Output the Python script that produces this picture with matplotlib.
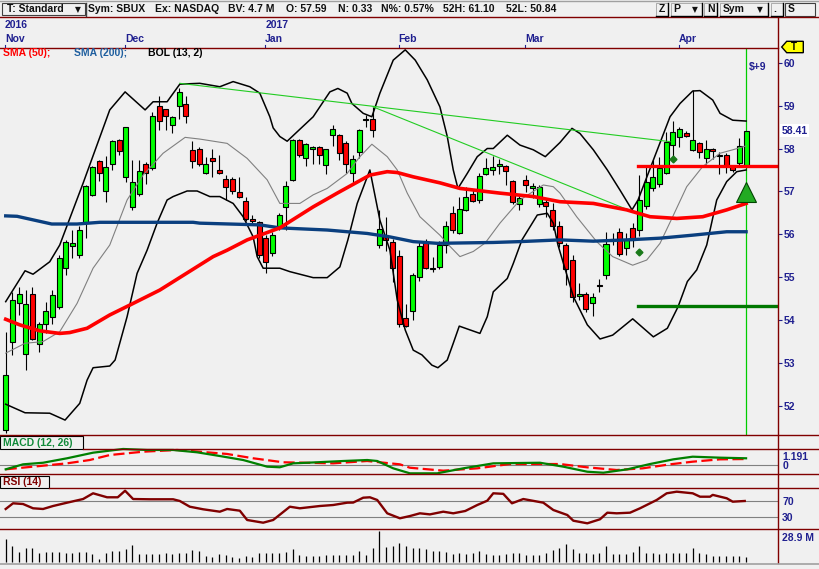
import numpy as np
import matplotlib
matplotlib.use('Agg')
import matplotlib.pyplot as plt
import matplotlib.transforms as mtransforms
from matplotlib.patches import Rectangle, Polygon
from matplotlib.lines import Line2D

plt.rcParams['font.family'] = ['Liberation Sans', 'DejaVu Sans']

# daily candles SBUX, Nov 4 2016 .. Apr 18 2017
opens = [51.44, 53.50, 54.39, 53.20, 54.62, 53.44, 53.92, 54.08, 54.31, 55.21,
         55.73, 55.52, 56.29, 56.92, 57.71, 57.00, 57.63, 58.20, 57.33, 56.63,
         56.95, 57.65, 57.54, 58.98, 58.91, 58.55, 58.99, 59.03, 57.96, 58.00,
         57.42, 57.79, 57.50, 57.30, 57.29, 56.98, 56.78, 56.35, 56.28, 55.92,
         55.56, 56.18, 56.63, 57.27, 58.21, 57.79, 57.98, 58.03, 57.61, 58.32,
         58.32, 58.12, 57.42, 57.91, 58.66, 58.68, 55.75, 55.98, 55.81, 55.49,
         54.04, 54.21, 55.00, 55.81, 55.21, 55.23, 55.75, 56.49, 56.02, 56.57,
         56.95, 56.80, 57.40, 57.51, 57.59, 57.60, 57.25, 56.71, 57.27, 57.09,
         56.71, 56.76, 56.57, 56.19, 55.75, 55.40, 54.56, 54.62, 54.39, 54.83,
         55.05, 55.85, 56.05, 55.67, 56.14, 56.10, 56.66, 57.09, 57.17, 57.44,
         58.08, 58.26, 58.35, 57.96, 58.12, 57.79, 57.98, 57.85, 57.85, 57.59,
         57.67, 57.59]
highs = [53.72, 54.66, 54.78, 54.70, 54.78, 53.96, 54.43, 54.70, 55.52, 55.86,
         56.10, 56.20, 57.15, 57.60, 57.73, 57.83, 58.20, 58.22, 58.51, 57.73,
         57.73, 57.69, 58.86, 59.22, 58.93, 58.76, 59.40, 59.22, 58.18, 58.04,
         57.81, 58.00, 57.85, 57.38, 57.34, 57.34, 56.88, 56.45, 56.30, 55.98,
         56.05, 56.50, 57.25, 58.22, 58.23, 58.12, 58.05, 58.05, 58.00, 58.55,
         58.34, 58.18, 57.86, 58.45, 58.78, 58.97, 56.57, 56.40, 55.90, 55.63,
         54.37, 55.09, 55.81, 55.90, 55.48, 55.85, 56.30, 56.65, 56.88, 57.11,
         57.03, 57.42, 57.79, 57.82, 57.75, 57.62, 57.27, 56.95, 57.38, 57.20,
         57.15, 56.84, 56.72, 56.30, 55.80, 55.52, 54.87, 54.66, 54.64, 54.95,
         56.06, 56.02, 56.15, 56.02, 56.26, 57.38, 57.58, 57.73, 57.81, 58.39,
         58.63, 58.51, 58.40, 59.36, 58.16, 58.20, 58.02, 57.92, 57.90, 57.62,
         58.24, 58.41]
lows = [51.36, 53.19, 54.12, 52.84, 53.54, 53.26, 53.69, 53.92, 54.27, 55.05,
        55.44, 55.45, 55.91, 56.90, 57.25, 56.76, 57.51, 57.85, 57.21, 56.57,
        56.90, 57.17, 57.50, 58.43, 58.43, 58.35, 58.68, 58.60, 57.54, 57.59,
        57.40, 57.33, 57.40, 56.81, 56.95, 56.84, 56.30, 56.25, 55.45, 55.09,
        55.50, 56.10, 56.10, 57.25, 57.81, 57.59, 57.65, 57.65, 57.41, 58.06,
        57.73, 57.42, 57.17, 57.77, 58.51, 58.28, 55.67, 55.60, 54.90, 53.83,
        53.85, 54.00, 54.92, 55.20, 55.11, 55.20, 55.57, 56.02, 56.00, 56.55,
        56.76, 56.72, 57.38, 57.38, 57.40, 57.15, 56.71, 56.57, 56.99, 56.85,
        56.64, 56.41, 56.10, 55.70, 54.83, 54.43, 54.47, 54.20, 54.10, 54.66,
        54.97, 55.75, 55.50, 55.52, 55.71, 55.97, 56.60, 57.00, 57.10, 57.40,
        57.81, 58.03, 58.28, 57.94, 57.77, 57.64, 57.76, 57.40, 57.42, 57.45,
        57.60, 57.55]
closes = [52.73, 54.48, 54.62, 54.37, 53.57, 53.92, 54.21, 54.59, 55.44, 55.83,
          55.79, 56.10, 57.13, 57.58, 57.42, 57.58, 58.18, 57.95, 58.49, 57.21,
          57.48, 57.42, 58.76, 58.64, 58.76, 58.74, 59.31, 58.76, 57.71, 57.65,
          57.63, 57.71, 57.42, 57.10, 57.01, 56.86, 56.35, 56.30, 55.52, 55.36,
          55.98, 56.45, 57.13, 58.20, 57.86, 58.10, 58.03, 57.85, 57.98, 58.45,
          57.89, 57.65, 57.75, 58.43, 58.69, 58.43, 56.12, 55.87, 55.21, 53.90,
          53.86, 55.05, 55.73, 55.22, 55.18, 55.75, 56.20, 56.10, 56.58, 56.86,
          56.78, 57.36, 57.54, 57.58, 57.64, 57.47, 56.76, 56.84, 57.15, 57.13,
          57.11, 56.67, 56.19, 55.80, 55.18, 54.53, 54.62, 54.27, 54.53, 54.80,
          55.77, 55.90, 55.54, 55.87, 55.87, 56.80, 57.23, 57.34, 57.54, 58.16,
          58.38, 58.45, 58.30, 58.21, 57.91, 58.00, 57.95, 57.82, 57.59, 57.50,
          58.06, 58.41]
volume_m = [26.5, 17.9, 11.3, 16.0, 16.0, 10.1, 11.3, 11.3, 11.3, 10.1,
            10.1, 11.3, 11.3, 9.0, 3.5, 10.1, 12.1, 12.1, 15.2, 19.9,
            9.0, 9.0, 9.0, 9.0, 10.1, 9.0, 10.1, 10.1, 14.0, 12.9,
            7.0, 5.1, 9.0, 7.4, 5.1, 4.3, 7.0, 5.1, 10.1, 10.1,
            10.1, 10.1, 10.9, 15.2, 7.4, 7.0, 6.2, 6.2, 8.2, 8.2,
            8.2, 8.2, 8.2, 12.9, 8.2, 16.0, 35.5, 17.2, 17.9, 21.8,
            18.7, 15.6, 15.6, 14.4, 12.9, 12.9, 11.7, 9.0, 10.5, 8.6,
            10.5, 12.9, 9.0, 7.8, 7.8, 9.0, 10.5, 10.5, 7.8, 7.8,
            7.8, 10.5, 13.7, 15.6, 20.7, 14.4, 9.8, 9.8, 9.0, 10.5,
            18.3, 9.0, 9.0, 9.0, 11.7, 18.3, 10.5, 9.8, 9.0, 10.5,
            10.5, 10.5, 10.5, 16.4, 10.5, 9.0, 6.6, 6.6, 6.6, 6.6,
            6.6, 5.9]

month_labels = ['Nov', 'Dec', 'Jan', 'Feb', 'Mar', 'Apr']
month_idx = [0, 18, 39, 59, 78, 101]
year_labels = ['2016', '2017']
year_idx = [0, 39]

# indicator lines (bar index, value)
sma50_i = [0, 2.1, 5.1, 8.1, 9.6, 12.2, 15.6, 18.6, 23.1, 27.2, 31.1, 33.2, 36.2, 41.1, 46.1, 49.7,
           54.6, 57.2, 58.7, 61.1, 65.1, 68.1, 74.1, 79.1, 83.1, 88.1, 93.1, 96.6, 100.6, 104.5, 108.1, 111]
sma50_v = [54.02, 53.89, 53.75, 53.69, 53.71, 53.81, 54.12, 54.35, 54.70, 55.10, 55.48, 55.63, 55.87, 56.15,
           56.64, 56.96, 57.38, 57.46, 57.44, 57.34, 57.20, 57.07, 56.96, 56.88, 56.76, 56.72, 56.57, 56.41,
           56.37, 56.41, 56.57, 56.72]
sma200_i = [0, 1.7, 6.9, 10.7, 14.1, 28.1, 29.1, 38.1, 41.1, 48.2, 54.2, 57.6, 61.1, 64.7, 73.1, 77.1,
            83.1, 88.1, 93.1, 98.1, 103.0, 108.1, 111]
sma200_v = [56.43, 56.42, 56.24, 56.24, 56.28, 56.28, 56.26, 56.22, 56.15, 56.10, 56.02, 55.94, 55.83,
            55.79, 55.81, 55.83, 55.87, 55.84, 55.87, 55.91, 55.98, 56.06, 56.06]
bb_up_i = [0, 2.9, 4.1, 6.6, 8.1, 11.6, 15.6, 17.9, 20.9, 22.1, 24.2, 26.1, 29.1, 32.1, 34.1, 36.6,
           38.1, 39.6, 40.1, 41.1, 42.2, 43.7, 46.1, 48.6, 49.8, 51.2, 51.9, 53.6, 54.9, 56.1, 58.1,
           59.9, 61.4, 63.2, 65.1, 66.2, 67.1, 67.8, 69.2, 70.7, 72.2, 73.1, 75.2, 77.1, 79.1, 80.9,
           83.1, 84.9, 86.1, 88.1, 90.2, 92.1, 93.9, 94.8, 97.1, 99.6, 101.1, 103.0, 104.1, 106.0,
           107.1, 109.0, 111]
bb_up_v = [54.43, 55.15, 55.07, 55.36, 55.75, 57.19, 58.90, 59.32, 58.90, 59.09, 59.09, 59.50, 59.52,
           59.44, 59.56, 59.44, 59.29, 58.74, 58.48, 58.28, 58.17, 58.39, 58.74, 59.32, 59.40, 59.29,
           59.05, 58.82, 58.74, 59.29, 60.06, 60.30, 60.06, 59.60, 58.97, 58.28, 57.50, 57.07, 57.42,
           57.81, 58.00, 58.00, 58.31, 58.08, 57.97, 57.81, 58.14, 58.47, 58.35, 57.97, 57.50, 57.03,
           56.57, 56.80, 57.73, 58.74, 59.05, 59.34, 59.35, 59.13, 58.82, 58.66, 58.64]
bb_mid_i = [0, 2.9, 5.6, 8.1, 10.7, 13.1, 15.6, 18.2, 20.6, 23.6, 26.9, 29.1, 33.2, 36.2, 39.2, 41.1,
            44.1, 46.1, 48.2, 51.2, 53.1, 54.9, 57.2, 58.7, 60.2, 62.1, 65.1, 66.6, 68.1, 70.1, 71.9,
            74.1, 77.1, 80.6, 82.1, 83.1, 85.6, 88.6, 91.0, 94.0, 96.1, 98.1, 100.0, 102.1, 104.5,
            107.1, 109.0, 111]
bb_mid_v = [53.23, 53.46, 53.50, 53.73, 54.39, 55.21, 55.75, 56.80, 57.38, 57.89, 58.26, 58.22, 58.12,
            57.77, 57.27, 56.72, 56.72, 56.92, 57.07, 57.42, 57.81, 58.10, 57.81, 57.50, 56.96, 56.41,
            55.98, 55.72, 55.48, 55.60, 55.80, 56.26, 56.80, 57.15, 57.11, 56.96, 56.41, 55.83, 55.48,
            55.28, 55.40, 55.79, 56.41, 57.11, 57.58, 57.89, 57.97, 58.06]
bb_lo_i = [0, 2.9, 6.6, 8.9, 11.1, 12.2, 13.1, 15.6, 16.4, 18.2, 19.7, 21.2, 22.7, 24.2, 25.1, 27.2,
           28.7, 30.6, 32.1, 34.1, 35.6, 37.1, 37.7, 38.6, 41.1, 42.6, 46.1, 48.2, 50.1, 51.3, 52.7,
           54.6, 56.1, 57.6, 58.7, 59.9, 61.1, 62.4, 63.9, 64.8, 66.2, 67.1, 68.0, 71.1, 72.2, 73.1,
           75.2, 76.1, 77.4, 79.7, 81.2, 82.1, 82.8, 85.1, 87.2, 89.1, 91.0, 94.0, 97.1, 99.2, 100.8,
           102.2, 103.6, 105.1, 106.6, 108.1, 109.6, 111]
bb_lo_v = [52.04, 51.84, 51.83, 51.67, 52.06, 52.60, 52.89, 52.93, 53.07, 54.08, 55.09, 55.63, 56.26,
           56.80, 56.88, 57.01, 57.01, 56.88, 56.88, 56.72, 56.41, 55.94, 55.48, 55.21, 55.21, 55.13,
           54.99, 54.99, 55.24, 55.87, 56.72, 57.50, 56.33, 55.63, 54.47, 53.77, 53.30, 53.19, 52.95,
           52.89, 53.07, 53.46, 53.86, 53.69, 54.08, 54.66, 54.97, 55.32, 55.87, 56.45, 56.49, 56.26,
           55.75, 54.55, 53.89, 53.56, 53.65, 54.03, 53.61, 53.81, 54.31, 54.90, 55.17, 55.75, 56.80,
           57.23, 57.46, 57.50]

# trend lines, stop/target levels and signal markers
trend_a_i = [26.1, 99.6]
trend_a_v = [59.52, 58.16]
trend_b_i = [55.1, 94.6]
trend_b_v = [58.97, 56.49]
level_start = 94.75
stop_level = 57.59
target_level = 54.34
diamond_i = [94.95, 100.1]
diamond_v = [55.58, 57.76]
buy_arrow_v = 56.99

macd_i = [0, 2.6, 5.6, 9.2, 13.1, 17.6, 21.2, 25.1, 28.7, 32.1, 35.6, 39.2, 41.1, 43.1, 46.7, 50.6,
          54.2, 55.7, 58.1, 60.6, 64.7, 68.6, 73.1, 80.1, 83.6, 87.2, 89.6, 93.2, 96.6, 100.1, 103.0,
          107.1, 111]
macd_v = [-0.57, 0.09, 0.30, 0.89, 1.63, 2.12, 1.99, 1.99, 1.68, 1.19, 0.66, -0.22, -0.30, 0.22, 0.36,
          0.53, 0.66, 0.53, -0.44, -1.10, -1.10, -0.44, 0.22, 0.30, -0.22, -0.89, -1.02, -0.57, 0.13,
          0.75, 1.10, 0.97, 0.89]
signal_i = [0, 4.1, 9.2, 12.6, 15.6, 20.6, 25.7, 29.1, 33.2, 37.1, 41.6, 49.1, 54.2, 59.1, 60.6, 65.6,
            70.7, 75.6, 83.1, 87.2, 91.6, 95.5, 99.6, 103.0, 107.1, 111]
signal_v = [-0.57, -0.22, 0.22, 0.66, 1.32, 1.76, 1.99, 1.76, 1.46, 0.89, 0.36, 0.22, 0.53, 0.09, -0.36,
            -0.75, -0.44, 0.13, 0.13, -0.31, -0.66, -0.44, 0.09, 0.44, 0.75, 0.79]
rsi_i = [0, 1.1, 2.6, 4.1, 5.6, 7.1, 9.2, 11.6, 13.1, 15.2, 16.8, 17.9, 19.1, 21.6, 25.1, 26.1, 27.6,
         29.6, 32.1, 33.2, 35.1, 36.2, 38.6, 40.1, 42.6, 44.1, 47.1, 49.1, 51.2, 52.1, 53.6, 54.6, 55.7,
         57.2, 59.1, 60.6, 62.1, 63.6, 65.6, 67.1, 68.9, 70.7, 72.2, 73.1, 74.6, 75.9, 77.6, 80.6, 82.1,
         84.2, 85.1, 87.2, 89.1, 90.2, 91.6, 93.6, 95.1, 97.6, 99.1, 100.6, 103.0, 104.1, 105.6, 106.0,
         108.1, 109.0, 110.8]
rsi_v = [50.0, 63.7, 62.0, 51.7, 50.0, 57.2, 65.2, 74.0, 87.8, 78.2, 78.2, 94.0, 74.0, 73.4, 73.4, 69.3,
         55.5, 49.3, 43.5, 50.0, 45.9, 23.5, 17.0, 23.5, 55.5, 51.7, 57.2, 59.6, 65.2, 65.5, 77.2, 78.2,
         71.7, 39.6, 27.6, 33.0, 39.6, 37.0, 43.5, 39.6, 45.2, 59.6, 70.0, 87.8, 86.5, 63.7, 74.0, 65.2,
         47.6, 35.5, 21.8, 15.5, 25.2, 41.1, 39.6, 41.1, 51.7, 71.7, 87.8, 91.7, 87.8, 79.6, 79.6, 84.0,
         75.8, 67.6, 69.3]

header = [('Sym: SBUX', 88), ('Ex: NASDAQ', 155), ('BV: 4.7 M', 228), ('O: 57.59', 286),
          ('N: 0.33', 338), ('N%: 0.57%', 381), ('52H: 61.10', 443), ('52L: 50.84', 506)]

W, H = 820, 569
BG = '#f0f0f0'
DARKRED = '#800000'
NAVY = '#202090'


def rect(x0, y0, x1, y1):
    return [x0 / W, 1 - y1 / H, (x1 - x0) / W, (y1 - y0) / H]


def fig_line(fig, xs, ys, color, lw=1.0):
    fig.add_artist(Line2D([x / W for x in xs], [1 - y / H for y in ys], color=color, lw=lw))


def fig_box(fig, x0, y0, x1, y1, fc=BG, ec='black', lw=0.8):
    fig.add_artist(Rectangle((x0 / W, 1 - y1 / H), (x1 - x0) / W, (y1 - y0) / H,
                             transform=fig.transFigure, fc=fc, ec=ec, lw=lw))


fig = plt.figure(figsize=(8.2, 5.69), dpi=100, facecolor=BG)

# bar index -> pixel: x = 5.7 + 6.67 * i
xlim = (-5.7 / 6.67, (778 - 5.7) / 6.67)
idx = np.arange(len(closes))
o = np.array(opens)
c = np.array(closes)

# price panel
ax = fig.add_axes(rect(0, 47.7, 778, 435), facecolor=BG)
ax.set_xlim(*xlim)
ax.set_ylim(51.322, 60.35)
for s in ax.spines.values():
    s.set_visible(False)
ax.set_xticks([])
ax.yaxis.tick_right()
ax.set_yticks(range(52, 61))
ax.tick_params(axis='y', length=3, width=0.8, color=NAVY, labelcolor=NAVY, labelsize=7.5, pad=1)
for t in ax.get_yticklabels():
    t.set_fontweight('bold')

ax.axvline(idx[-1], color='#00cc00', lw=0.9, zorder=1)
ax.vlines(idx, lows, highs, color='black', lw=0.8, zorder=2)
ax.bar(idx, np.maximum(np.abs(c - o), 0.03), bottom=np.minimum(o, c), width=0.75,
       color=np.where(c >= o, '#00ff00', '#ff0000'), edgecolor='black', linewidth=0.8, zorder=3)

ax.plot(bb_mid_i, bb_mid_v, color='#808080', lw=0.8, zorder=4)
ax.plot(bb_up_i, bb_up_v, color='black', lw=1.1, zorder=4)
ax.plot(bb_lo_i, bb_lo_v, color='black', lw=1.1, zorder=4)
ax.plot(trend_a_i, trend_a_v, color='#22cc22', lw=0.8, zorder=4)
ax.plot(trend_b_i, trend_b_v, color='#22cc22', lw=0.8, zorder=4)
ax.plot(sma200_i, sma200_v, color='#0a3f7f', lw=2.4, zorder=5)
ax.plot(sma50_i, sma50_v, color='#ff0000', lw=2.6, zorder=5)

ax.plot([level_start, xlim[1] - 0.3], [stop_level, stop_level], color='#ff0000', lw=2.4, zorder=6)
ax.plot([level_start, xlim[1] - 0.3], [target_level, target_level], color='#007700', lw=2.4, zorder=6)
ax.plot(diamond_i, diamond_v, 'D', color='#1a7a1a', ms=3.5, zorder=6)
ax.plot([idx[-1]], [buy_arrow_v], '^', ms=15, mfc='#22aa22', mec='#004400', mew=0.8, zorder=7)

ax.text(idx[-1] + 0.4, 59.89, '$+9', color=NAVY, fontsize=7.5, fontweight='bold', va='center', ha='left')
trans = mtransforms.blended_transform_factory(ax.transAxes, ax.transData)
ax.text(1.0045, closes[-1], f'{closes[-1]:.2f}', transform=trans, color=NAVY, fontsize=7.5,
        fontweight='bold', va='center', ha='left',
        bbox=dict(boxstyle='square,pad=0.15', fc='white', ec='none'))

# date band
axd = fig.add_axes(rect(0, 17, 778, 47.7), facecolor=BG)
axd.set_xlim(*xlim)
axd.set_ylim(0, 1)
axd.axis('off')
for m, i in zip(month_labels, month_idx):
    axd.text(i - 0.1, 0.27, m, color=NAVY, fontsize=7.5, fontweight='bold', ha='left', va='center')
    axd.plot([i - 0.1, i - 0.1], [0, 0.08], color=NAVY, lw=0.8)
for yl, i in zip(year_labels, year_idx):
    axd.text(i - 0.1, 0.74, yl, color=NAVY, fontsize=7.5, fontweight='bold', ha='left', va='center')

# MACD panel
axm = fig.add_axes(rect(0, 435, 778, 474), facecolor=BG, sharex=ax)
axm.set_ylim(-1.19, 3.97)
axm.axhline(0, color='#808080', lw=0.8)
axm.plot(macd_i, macd_v, color='#008000', lw=1.6, zorder=3)
axm.plot(signal_i, signal_v, color='#ff0000', lw=1.6, ls=(0, (5, 2)), zorder=2)

# RSI panel
axr = fig.add_axes(rect(0, 474, 778, 529), facecolor=BG, sharex=ax)
axr.set_ylim(1.8, 134.3)
axr.axhline(70, color='#808080', lw=0.8)
axr.axhline(30, color='#808080', lw=0.8)
axr.plot(rsi_i, rsi_v, color=DARKRED, lw=1.7)

# volume panel
axv = fig.add_axes(rect(0, 529, 778, 563), facecolor=BG, sharex=ax)
axv.set_ylim(-1.52, 38.26)
axv.vlines(idx, 0, volume_m, color='black', lw=0.9)

for a, ticks, labels in [(axm, [0, 1.191], ['0', '1.191']), (axr, [30, 70], ['30', '70']),
                         (axv, [28.9], ['28.9 M'])]:
    for s in a.spines.values():
        s.set_visible(False)
    a.set_xlim(*xlim)
    a.tick_params(axis='x', length=0, labelbottom=False)
    a.yaxis.tick_right()
    a.set_yticks(ticks)
    a.set_yticklabels(labels)
    a.tick_params(axis='y', length=0, labelcolor=NAVY, labelsize=7.5, pad=3)
    for t in a.get_yticklabels():
        t.set_fontweight('bold')

# panel frames
fig_line(fig, [0, 820], [0.5, 0.5], '#a0a0a0')
fig_line(fig, [0, 820], [16.7, 16.7], DARKRED)
fig_line(fig, [0, 778], [47.7, 47.7], DARKRED)
fig_line(fig, [0, 820], [435, 435], DARKRED)
fig_line(fig, [83, 820], [449.3, 449.3], DARKRED)
fig_line(fig, [0, 820], [474, 474], DARKRED)
fig_line(fig, [49, 820], [488.3, 488.3], DARKRED)
fig_line(fig, [0, 820], [529, 529], DARKRED)
fig_line(fig, [778, 778], [16.7, 563], DARKRED)
fig_line(fig, [0, 820], [563.5, 563.5], '#a0a0a0', lw=1.2)

fig_box(fig, 0, 436.5, 82.7, 449.3)
fig.text(3 / W, 1 - 443 / H, 'MACD (12, 26)', color='#118a3a', fontsize=7.5, fontweight='bold', va='center')
fig_box(fig, 0, 476, 49.3, 488.3)
fig.text(3 / W, 1 - 482.3 / H, 'RSI (14)', color=DARKRED, fontsize=7.5, fontweight='bold', va='center')

# legend row
fig.text(3 / W, 1 - 53.5 / H, 'SMA (50);', color='#ff0000', fontsize=7.5, fontweight='bold', va='center')
fig.text(74 / W, 1 - 53.5 / H, 'SMA (200);', color='#1f5f9f', fontsize=7.5, fontweight='bold', va='center')
fig.text(148 / W, 1 - 53.5 / H, 'BOL (13, 2)', color='black', fontsize=7.5, fontweight='bold', va='center')

# toolbar
fig_box(fig, 1.7, 2.7, 85, 15.3, ec='#404040')
fig.text(7 / W, 1 - 9.3 / H, 'T: Standard', color='#101010', fontsize=7.5, fontweight='bold', va='center')
fig.text(75 / W, 1 - 9.3 / H, '▼', color='#101010', fontsize=5.5, va='center', family='DejaVu Sans')
fig_line(fig, [86.5, 86.5], [3, 15.5], '#404040')
for s, x in header:
    fig.text(x / W, 1 - 9.3 / H, s, color='#101010', fontsize=7.5, fontweight='bold', va='center')
for x0, x1, s in [(655.7, 668.3, 'Z'), (670.7, 702.3, 'P'), (704, 717.3, 'N'),
                  (720, 768.3, 'Sym'), (770.7, 783.3, '.')]:
    fig_box(fig, x0, 3, x1, 15.5, ec='#a0a0a0', lw=0.6)
    fig_line(fig, [x0, x1, x1], [15.5, 15.5, 3], 'black', lw=1.0)
    fig.text((x0 + 3) / W, 1 - 9.3 / H, s, color='#101010', fontsize=7.5, fontweight='bold', va='center')
fig.text(692 / W, 1 - 9.3 / H, '▼', color='#101010', fontsize=5.5, va='center', family='DejaVu Sans')
fig.text(757 / W, 1 - 9.3 / H, '▼', color='#101010', fontsize=5.5, va='center', family='DejaVu Sans')
fig_box(fig, 785, 3, 815, 15.5, fc=BG, ec='#404040', lw=0.8)
fig.text(788 / W, 1 - 9.3 / H, 'S', color='#101010', fontsize=7.5, fontweight='bold', va='center')

# yellow tag
tag = Polygon([(781.7 / W, 1 - 47 / H), (786.7 / W, 1 - 41.3 / H), (803.3 / W, 1 - 41.3 / H),
               (803.3 / W, 1 - 52.7 / H), (786.7 / W, 1 - 52.7 / H)],
              closed=True, transform=fig.transFigure, fc='#ffff00', ec='black', lw=1.0)
fig.add_artist(tag)
fig.text(793.5 / W, 1 - 47 / H, 'T', color='black', fontsize=7, fontweight='bold', ha='center', va='center')

fig.savefig('out.png', dpi=100, facecolor=BG)
